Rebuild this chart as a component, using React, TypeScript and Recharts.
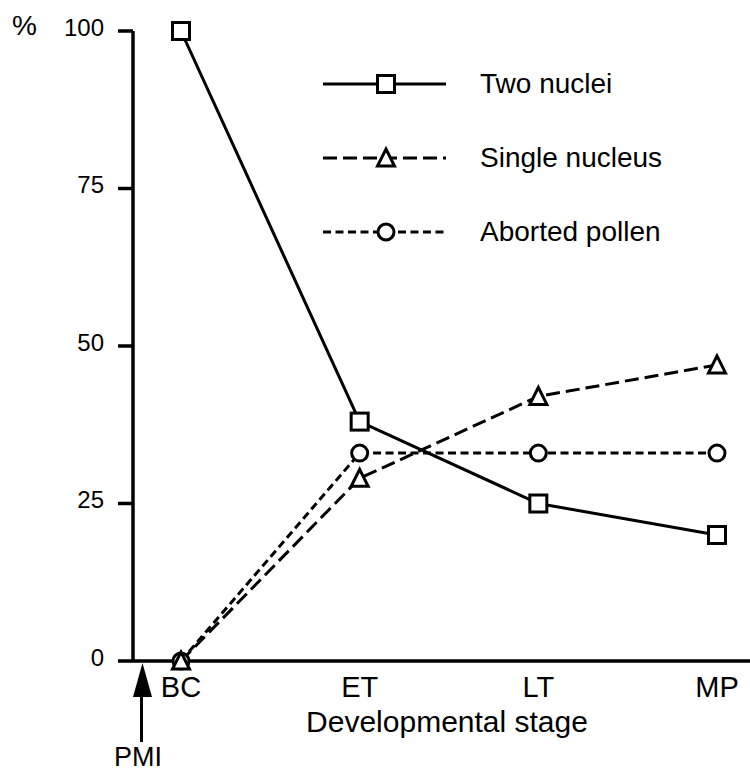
import { LineChart, Line, XAxis, YAxis, Legend, Customized } from 'recharts'

const stages = ['BC', 'ET', 'LT', 'MP']
const twoNuclei = [100, 38, 25, 20]
const singleNucleus = [0, 29, 42, 47]
const abortedPollen = [0, 33, 33, 33]
const yTicks = [0, 25, 50, 75, 100]

const data = stages.map((stage, i) => ({
  stage,
  two: twoNuclei[i],
  single: singleNucleus[i],
  aborted: abortedPollen[i],
}))

const FONT = '"Liberation Sans", Arial, Helvetica, sans-serif'
const INK = '#000'

const series = [
  { key: 'two', name: 'Two nuclei', dash: undefined, marker: 'square' },
  { key: 'single', name: 'Single nucleus', dash: '14 6', marker: 'triangle' },
  { key: 'aborted', name: 'Aborted pollen', dash: '8 4.5', marker: 'circle' },
]
// triangles sit on top of the circles at BC in the original
const drawOrder = ['two', 'aborted', 'single']

function Marker({ type, cx, cy }: { type: string; cx: number; cy: number }) {
  if (type === 'square') {
    return <rect x={cx - 8.5} y={cy - 8.5} width={17} height={17} fill="#fff" stroke={INK} strokeWidth={3} />
  }
  if (type === 'triangle') {
    return (
      <polygon
        points={`${cx},${cy - 9} ${cx + 8.5},${cy + 8} ${cx - 8.5},${cy + 8}`}
        fill="#fff"
        stroke={INK}
        strokeWidth={3}
      />
    )
  }
  return <circle cx={cx} cy={cy} r={8} fill="#fff" stroke={INK} strokeWidth={3} />
}

const YTick = ({ x, y, payload }: any) => (
  <text x={x} y={y + 4.5} textAnchor="end" fontSize={24} fontFamily={FONT} fill={INK}>
    {payload.value}
  </text>
)

const XTick = ({ x, y, payload }: any) => (
  <text x={x} y={y + 36} textAnchor="middle" fontSize={29} fontFamily={FONT} fill={INK}>
    {payload.value}
  </text>
)

// legend keeps the series order (top to bottom) rather than recharts' payload order
const renderLegend = (props: any) => (
  <div style={{ fontFamily: FONT }}>
    {series.map((s) => {
      const entry = (props.payload || []).find((p: any) => p.dataKey === s.key)
      return (
        <div key={s.key} style={{ display: 'flex', alignItems: 'center', height: 74 }}>
          <svg width={126} height={30} style={{ display: 'block' }}>
            <line x1={1} y1={15} x2={124} y2={15} stroke={INK} strokeWidth={3} strokeDasharray={s.dash} />
            <Marker type={s.marker} cx={64} cy={15} />
          </svg>
          <span style={{ marginLeft: 32, fontSize: 28, color: INK, whiteSpace: 'nowrap' }}>
            {entry ? entry.value : s.name}
          </span>
        </div>
      )
    })}
  </div>
)

const Annotations = () => (
  <g fontFamily={FONT} fill={INK}>
    <text x={12} y={35} fontSize={28}>%</text>
    <text x={447} y={732} fontSize={30} textAnchor="middle">Developmental stage</text>
    <polygon points="133,697 152,697 142.5,663" fill={INK} />
    <line x1={141.5} y1={696} x2={141.5} y2={742} stroke={INK} strokeWidth={3} />
    <text x={138} y={766} fontSize={27} textAnchor="middle">PMI</text>
  </g>
)

export default function App() {
  return (
    <div style={{ position: 'absolute', left: 0, top: 0, background: '#fff' }}>
      <LineChart width={750} height={772} data={data} margin={{ top: 31, right: 0, bottom: 0, left: 0 }}>
        <XAxis
          dataKey="stage"
          height={111}
          padding={{ left: 48, right: 33 }}
          tickLine={false}
          tickSize={0}
          tickMargin={0}
          axisLine={{ stroke: INK, strokeWidth: 3.5 }}
          tick={XTick}
          interval={0}
        />
        <YAxis
          width={133}
          domain={[0, 100]}
          ticks={yTicks}
          tickSize={15}
          tickMargin={14}
          tickLine={{ stroke: INK, strokeWidth: 3.5 }}
          axisLine={{ stroke: INK, strokeWidth: 3.5 }}
          tick={YTick}
        />
        <Legend
          layout="vertical"
          align="center"
          verticalAlign="middle"
          content={renderLegend}
          wrapperStyle={{ position: 'absolute', left: 322, top: 47, width: 400 }}
        />
        {drawOrder.map((k) => {
          const s = series.find((d) => d.key === k)!
          return (
            <Line
              key={s.key}
              dataKey={s.key}
              name={s.name}
              type="linear"
              stroke={INK}
              strokeWidth={3}
              strokeDasharray={s.dash}
              isAnimationActive={false}
              activeDot={false}
              dot={(p: any) => <Marker key={`${s.key}-${p.index}`} type={s.marker} cx={p.cx} cy={p.cy} />}
            />
          )
        })}
        <Customized component={Annotations} />
      </LineChart>
    </div>
  )
}
